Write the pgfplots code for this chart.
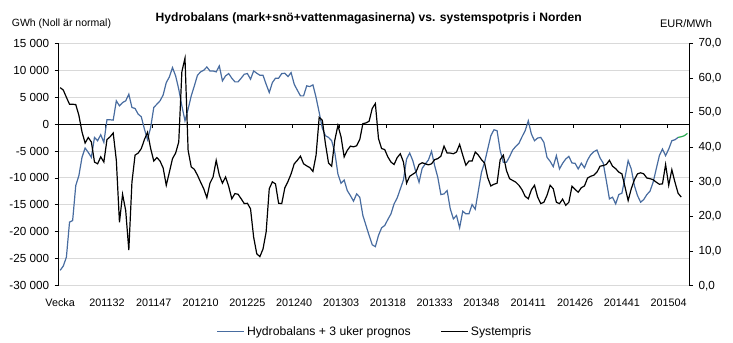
\documentclass[border=0pt]{standalone}
\usepackage{fontspec}
\setmainfont{Liberation Sans}
\usepackage{pgfplots}
\usepackage{pgfplotstable}
\pgfplotsset{compat=1.18}
\definecolor{hblue}{RGB}{72,108,160}
\definecolor{hgreen}{RGB}{40,170,80}
\definecolor{gridgray}{RGB}{217,217,217}

\pgfplotstableread{
x y
0 -27150
1 -26350
2 -24700
3 -18200
4 -17900
5 -11400
6 -9560
7 -6170
8 -4440
9 -5250
10 -6170
11 -2470
12 -3090
13 -1970
14 -3390
15 800
16 800
17 740
18 4320
19 3390
20 4000
21 4320
22 5550
23 3090
24 2900
25 1850
26 1360
27 -925
28 -2900
29 -617
30 3090
31 3700
32 4320
33 5400
34 7700
35 8760
36 10490
37 8950
38 6480
39 3390
40 620
41 2780
42 5240
43 7100
44 9070
45 9690
46 10000
47 10600
48 9870
49 9870
50 9690
51 10800
52 8020
53 8950
54 9380
55 8520
56 7840
57 7840
58 8520
59 9260
60 9380
61 8330
62 9870
63 9440
64 9070
65 9070
66 7400
67 5860
68 7710
69 8520
70 8520
71 9380
72 9440
73 8820
74 9560
75 7400
76 6290
77 5240
78 5240
79 7100
80 6970
81 7280
82 4940
83 2160
84 -740
85 -2160
86 -2470
87 -3090
88 -5250
89 -9260
90 -10980
91 -10370
92 -12340
93 -13270
94 -14310
95 -12960
96 -13570
97 -16970
98 -18820
99 -20670
100 -22400
101 -22750
102 -20670
103 -19250
104 -18820
105 -17710
106 -16660
107 -14810
108 -13700
109 -12030
110 -10370
111 -6480
112 -5370
113 -6790
114 -8950
115 -10800
116 -8210
117 -7400
118 -6660
119 -5060
120 -7710
121 -9870
122 -13080
123 -12960
124 -12340
125 -15730
126 -17590
127 -16970
128 -19250
129 -16170
130 -16660
131 -16660
132 -14930
133 -15800
134 -12400
135 -8950
136 -7100
137 -4630
138 -2160
139 -1050
140 -1230
141 -4940
142 -7100
143 -7100
144 -6050
145 -4810
146 -4130
147 -3580
148 -2350
149 -1230
150 620
151 -1850
152 -3090
153 -2590
154 -2470
155 -3390
156 -6170
157 -6910
158 -7900
159 -5860
160 -8330
161 -7280
162 -6480
163 -5990
164 -7220
165 -7280
166 -8330
167 -7250
168 -8100
169 -6660
170 -5680
171 -5120
172 -4810
173 -6290
174 -7220
175 -10490
176 -13880
177 -13570
178 -14810
179 -13080
180 -12830
181 -9870
182 -6790
183 -8330
184 -11410
185 -13270
186 -14500
187 -14000
188 -13080
189 -12460
190 -10800
191 -8330
192 -5860
193 -4630
194 -5860
195 -4630
196 -3090
197 -2900
198 -2470
}\hydro

\pgfplotstableread{
x y
198 -2470
199 -2350
200 -2160
201 -1730
}\prognos

\pgfplotstableread{
x y
0 57.2
1 56.5
2 54.4
3 52.4
4 52.4
5 52.3
6 49.2
7 44.4
8 41.2
9 42.8
10 41.5
11 35.7
12 35.2
13 37.2
14 35.7
15 42.2
16 43.0
17 44.1
18 36.2
19 18.3
20 26.4
21 21.7
22 10.3
23 29.9
24 37.7
25 38.3
26 39.6
27 42.2
28 44.3
29 39.6
30 36.0
31 37.0
32 36.0
33 34.0
34 29.0
35 32.8
36 36.7
37 38.3
38 41.5
39 61.8
40 65.7
41 39.1
42 34.3
43 33.6
44 31.9
45 29.9
46 28.0
47 25.4
48 29.6
49 31.4
50 36.2
51 31.9
52 29.6
53 31.4
54 28.7
55 25.1
56 26.6
57 26.4
58 25.1
59 23.7
60 23.8
61 22.2
62 14.0
63 9.2
64 8.4
65 10.6
66 15.5
67 28.0
68 30.0
69 29.4
70 23.8
71 23.7
72 28.3
73 30.1
74 32.3
75 35.2
76 36.2
77 37.4
78 35.2
79 34.6
80 34.1
81 33.0
82 37.7
83 48.6
84 47.8
85 41.0
86 35.4
87 34.5
88 42.0
89 46.3
90 43.0
91 37.2
92 39.1
93 40.3
94 40.1
95 40.4
96 42.2
97 46.8
98 47.0
99 47.5
100 51.2
101 52.6
102 42.5
103 39.6
104 39.3
105 37.2
106 35.7
107 35.0
108 37.0
109 38.1
110 35.7
111 29.6
112 31.6
113 32.2
114 32.8
115 35.0
116 35.5
117 35.2
118 34.9
119 35.2
120 36.4
121 36.7
122 37.4
123 40.3
124 38.3
125 38.3
126 38.1
127 38.6
128 40.8
129 37.7
130 34.8
131 36.0
132 36.0
133 38.6
134 37.7
135 36.4
136 35.4
137 31.2
138 28.8
139 29.3
140 29.6
141 36.4
142 37.7
143 33.3
144 30.9
145 30.4
146 29.9
147 29.0
148 27.7
149 25.8
150 25.1
151 27.7
152 29.0
153 25.6
154 23.7
155 24.1
156 26.1
157 29.0
158 28.0
159 24.1
160 23.7
161 25.0
162 23.2
163 24.1
164 28.7
165 27.8
166 27.0
167 28.3
168 28.8
169 31.1
170 31.6
171 31.9
172 32.8
173 34.5
174 34.7
175 35.0
176 36.2
177 34.5
178 33.8
179 32.8
180 32.3
181 28.5
182 24.6
183 28.0
184 30.6
185 32.3
186 32.6
187 32.3
188 31.1
189 30.9
190 30.6
191 29.9
192 29.3
193 29.4
194 35.0
195 29.0
196 33.5
197 29.9
198 26.7
199 25.6
}\price

\begin{document}
\begin{tikzpicture}
\useasboundingbox (0,0) rectangle (733bp,343bp);
\begin{axis}[
  at={(58.6bp,57.3bp)}, anchor=south west,
  scale only axis, width=630.4bp, height=242.4bp,
  xmin=-0.5, xmax=201.5, ymin=-30000, ymax=15000,
  scaled y ticks=false,
  axis lines*=left,
  x axis line style={draw=none},
  y axis line style={black, line width=1bp},
  tick align=outside, major tick length=4bp,
  ytick={-30000,-25000,-20000,-15000,-10000,-5000,0,5000,10000,15000},
  yticklabels={{-30 000},{-25 000},{-20 000},{-15 000},{-10 000},{-5 000},{0},{5 000},{10 000},{15 000}},
  yticklabel style={font=\fontsize{11.7bp}{13bp}\selectfont, xshift=-2bp},
  ytick style={black, line width=0.8bp},
  ymajorgrids, grid style={gridgray, line width=1bp},
  xtick={0,15,30,45,60,75,90,105,120,135,150,165,180,195},
  xticklabels={Vecka,201132,201147,201210,201225,201240,201303,201318,201333,201348,201411,201426,201441,201504},
  xticklabel style={font=\fontsize{10.8bp}{12bp}\selectfont, anchor=base, yshift=-17bp},
  xtick style={draw=none},
  legend style={at={(axis description cs:0.502,-0.19)}, anchor=center, draw=none, fill=none,
    font=\fontsize{12.2bp}{14bp}\selectfont, legend columns=2,
    /tikz/every even column/.append style={column sep=28bp}},
  legend image code/.code={\draw[#1] (0bp,0bp) -- (27bp,0bp);},
]
\draw[black, line width=1bp] (axis cs:-0.5,0) -- (axis cs:201.5,0);
\pgfplotsinvokeforeach{14.5,29.5,44.5,59.5,74.5,89.5,104.5,119.5,134.5,149.5,164.5,179.5,194.5}{
  \draw[black, line width=0.8bp] (axis cs:#1,0) -- ++(0bp,-4bp);
}
\addplot[hblue, line width=1.2bp] table {\hydro};
\addlegendentry{Hydrobalans + 3 uker prognos}
\addplot[hgreen, line width=1.2bp, forget plot] table {\prognos};
\addlegendimage{black, line width=1.2bp}
\addlegendentry{Systempris}
\end{axis}
\begin{axis}[
  at={(58.6bp,57.3bp)}, anchor=south west,
  scale only axis, width=630.4bp, height=242.4bp,
  xmin=-0.5, xmax=201.5, ymin=0, ymax=70,
  scaled y ticks=false,
  axis x line=none, axis y line*=right,
  y axis line style={black, line width=1bp},
  tick align=outside, major tick length=4bp,
  ytick={0,10,20,30,40,50,60,70},
  yticklabels={{0,0},{10,0},{20,0},{30,0},{40,0},{50,0},{60,0},{70,0}},
  yticklabel style={font=\fontsize{11.7bp}{13bp}\selectfont, xshift=2bp},
  ytick style={black, line width=0.8bp},
]
\addplot[black, line width=1.2bp] table {\price};
\end{axis}
\node[font=\fontsize{12.1bp}{14bp}\selectfont\bfseries] at (368.7bp,325bp) {Hydrobalans (mark+snö+vattenmagasinerna) vs. systemspotpris i Norden};
\node[font=\fontsize{10.5bp}{12bp}\selectfont] at (61.5bp,319.5bp) {GWh (Noll är normal)};
\node[font=\fontsize{11bp}{12bp}\selectfont] at (686bp,319bp) {EUR/MWh};
\end{tikzpicture}
\end{document}
